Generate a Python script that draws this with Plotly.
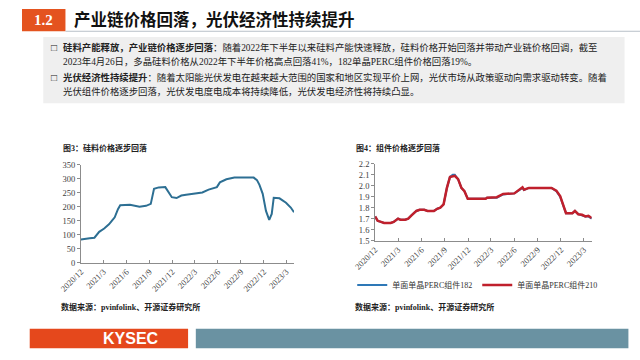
import plotly.graph_objects as go

W, H = 640, 360


def px(x):
    return x / W


def py(y):
    return 1 - y / H


# ---------------- data ----------------
si_dates = ["2020-12-01", "2020-12-23", "2021-01-05", "2021-01-24", "2021-02-12", "2021-03-04",
            "2021-03-23", "2021-04-05", "2021-04-15", "2021-04-28", "2021-05-07", "2021-06-15",
            "2021-07-10", "2021-07-23", "2021-08-18", "2021-09-06", "2021-09-19", "2021-10-08",
            "2021-11-03", "2021-11-29", "2021-12-18", "2022-01-06", "2022-01-25", "2022-03-05",
            "2022-03-31", "2022-04-25", "2022-05-28", "2022-06-09", "2022-07-05", "2022-08-06",
            "2022-10-22", "2022-11-04", "2022-11-14", "2022-11-27", "2022-12-10", "2022-12-23",
            "2023-01-02", "2023-01-10", "2023-02-02", "2023-02-28", "2023-03-19", "2023-04-01"]
si_price = [83, 84, 87, 89, 110, 122,
            137, 151, 162, 191, 205, 207,
            203, 200, 203, 210, 264, 269,
            270, 234, 231, 240, 243, 247,
            251, 261, 270, 287, 298, 304,
            304, 295, 278, 246, 185, 153,
            174, 232, 230, 214, 197, 180]

mod_dates = ["2020-12-01", "2020-12-11", "2020-12-24", "2021-01-05", "2021-01-31", "2021-02-12",
             "2021-03-01", "2021-03-10", "2021-03-29", "2021-04-10", "2021-04-23", "2021-05-12",
             "2021-05-25", "2021-06-12", "2021-06-25", "2021-07-20", "2021-08-02", "2021-08-14",
             "2021-08-27", "2021-09-09", "2021-09-21", "2021-10-02", "2021-10-10", "2021-10-23",
             "2021-11-05", "2021-11-17", "2021-11-30", "2022-02-08", "2022-02-14", "2022-03-24",
             "2022-04-18", "2022-06-01", "2022-06-14", "2022-07-03", "2022-07-09", "2022-07-28",
             "2022-10-25", "2022-11-13", "2022-11-28", "2022-12-08", "2022-12-21", "2023-01-15",
             "2023-01-25", "2023-02-07", "2023-02-22", "2023-03-07", "2023-03-19", "2023-04-01"]
mod_182 = [1.72, 1.68, 1.67, 1.66, 1.66, 1.67,
           1.70, 1.69, 1.69, 1.70, 1.73, 1.77,
           1.78, 1.78, 1.77, 1.77, 1.79, 1.80,
           1.83, 1.98, 2.08, 2.10, 2.10, 2.06,
           1.98, 1.95, 1.88, 1.88, 1.89, 1.89,
           1.92, 1.93, 1.95, 1.98, 1.96, 1.98,
           1.98, 1.95, 1.90, 1.83, 1.75, 1.75,
           1.77, 1.74, 1.73, 1.72, 1.72, 1.70]
mod_210 = [1.72, 1.68, 1.67, 1.66, 1.66, 1.67,
           1.70, 1.69, 1.69, 1.70, 1.73, 1.77,
           1.78, 1.78, 1.77, 1.77, 1.79, 1.80,
           1.83, 1.98, 2.08, 2.09, 2.09, 2.06,
           1.98, 1.95, 1.88, 1.88, 1.89, 1.895,
           1.925, 1.93, 1.955, 1.985, 1.963, 1.98,
           1.98, 1.955, 1.905, 1.83, 1.75, 1.75,
           1.77, 1.74, 1.735, 1.72, 1.725, 1.706]

tick_dates = ["2020-12-01", "2021-03-01", "2021-06-01", "2021-09-01", "2021-12-01",
              "2022-03-01", "2022-06-01", "2022-09-01", "2022-12-01", "2023-03-01"]
tick_text = ["2020/12", "2021/3", "2021/6", "2021/9", "2021/12",
             "2022/3", "2022/6", "2022/9", "2022/12", "2023/3"]

series_names = ["单面单晶PERC组件182", "单面单晶PERC组件210"]

# ---------------- figure ----------------
FONT = "Liberation Serif, Noto Sans CJK SC"
fig = go.Figure()

fig.add_trace(go.Scatter(x=si_dates, y=si_price, mode="lines", showlegend=False,
                         line=dict(color="#2d6f93", width=2), xaxis="x", yaxis="y"))
fig.add_trace(go.Scatter(x=mod_dates, y=mod_182, mode="lines", name=series_names[0],
                         line=dict(color="#2e78b7", width=2), xaxis="x2", yaxis="y2"))
fig.add_trace(go.Scatter(x=mod_dates, y=mod_210, mode="lines", name=series_names[1],
                         line=dict(color="#c0202c", width=2.5), xaxis="x2", yaxis="y2"))

x_common = dict(type="date", range=["2020-12-01", "2023-04-01"], tickvals=tick_dates,
                ticktext=tick_text, tickangle=-45, showgrid=False, zeroline=False,
                showline=True, linecolor="#8c8c8c", linewidth=1, ticks="inside",
                ticklen=3, tickcolor="#8c8c8c",
                tickfont=dict(family=FONT, size=8.5, color="#404040"), fixedrange=True)
y_common = dict(showgrid=False, zeroline=False, showline=True, linecolor="#8c8c8c",
                linewidth=1, ticks="outside", ticklen=3, tickcolor="#8c8c8c",
                tickfont=dict(family=FONT, size=8.5, color="#404040"), fixedrange=True)

fig.update_layout(
    width=W, height=H, margin=dict(l=0, r=0, t=0, b=0),
    paper_bgcolor="white", plot_bgcolor="white",
    xaxis=dict(domain=[px(61), px(281.7)], anchor="y", **x_common),
    yaxis=dict(domain=[py(265), py(164.3)], anchor="x", range=[0, 350], dtick=50, **y_common),
    xaxis2=dict(domain=[px(365.7), px(590)], anchor="y2", **x_common),
    yaxis2=dict(domain=[py(242.3), py(163.3)], anchor="x2", range=[1.5, 2.2], dtick=0.1,
                tickformat=".1f", **y_common),
    legend=dict(orientation="h", x=px(342), y=py(288), xanchor="left", yanchor="middle",
                entrywidth=80, entrywidthmode="pixels", itemwidth=30,
                font=dict(family=FONT, size=8, color="#333333"), bgcolor="rgba(0,0,0,0)"),
)

shapes = []
# header
shapes.append(dict(type="rect", xref="paper", yref="paper", x0=px(0), x1=px(45), y0=py(27), y1=py(4),
                   fillcolor="#e4531f", line=dict(width=0)))
shapes.append(dict(type="line", xref="paper", yref="paper", x0=px(45), x1=px(640), y0=py(27), y1=py(27),
                   line=dict(color="#b8c0c8", width=1)))
# grey text box
shapes.append(dict(type="rect", xref="paper", yref="paper", x0=px(22), x1=px(624), y0=py(101), y1=py(33),
                   fillcolor="#efefef", line=dict(width=0), layer="below"))
# footer
shapes.append(dict(type="rect", xref="paper", yref="paper", x0=px(8), x1=px(172), y0=py(353), y1=py(333),
                   fillcolor="#e5481c", line=dict(width=0)))
shapes.append(dict(type="rect", xref="paper", yref="paper", x0=px(180), x1=px(628), y0=py(353), y1=py(333),
                   fillcolor="#6a92a2", line=dict(width=0)))
fig.update_layout(shapes=shapes)

TXT = "Liberation Serif, Noto Sans CJK SC"


def note(x, y, text, size, color="#222222", bold=False, xanchor="left", family=TXT):
    if bold:
        text = "<b>" + text + "</b>"
    fig.add_annotation(x=px(x), y=py(y), xref="paper", yref="paper", text=text, showarrow=False,
                       xanchor=xanchor, yanchor="middle", align="left",
                       font=dict(family=family, size=size, color=color))


note(22.5, 15.5, "1.2", 15, color="white", bold=True, xanchor="center")
note(52, 15.5, "产业链价格回落，光伏经济性持续提升", 16.5, color="#111111", bold=True)

note(28, 44, "□", 10, color="#222222")
note(40, 44, "<b>硅料产能释放，产业链价格逐步回落</b>：随着2022年下半年以来硅料产能快速释放，硅料价格开始回落并带动产业链价格回调，截至", 9.4)
note(40, 58, "2023年4月26日，多晶硅料价格从2022年下半年价格高点回落41%，182单晶PERC组件价格回落19%。", 9.4)
note(28, 75, "□", 10, color="#222222")
note(40, 75, "<b>光伏经济性持续提升</b>：随着太阳能光伏发电在越来越大范围的国家和地区实现平价上网，光伏市场从政策驱动向需求驱动转变。随着", 9.4)
note(40, 89, "光伏组件价格逐步回落，光伏发电度电成本将持续降低，光伏发电经济性将持续凸显。", 9.4)

note(40, 147, "图3：硅料价格逐步回落", 8, bold=True)
note(344, 147, "图4：组件价格逐步回落", 8, bold=True)
note(38, 311, "数据来源：pvinfolink、开源证券研究所", 8, bold=True)
note(343, 311, "数据来源：pvinfolink、开源证券研究所", 8, bold=True)

note(113, 343, "KYSEC", 16, color="white", bold=True, xanchor="center", family="Liberation Sans, Arial")

fig.write_html("out.html", config={"displayModeBar": False},
               post_script="document.body.style.margin='0';document.body.style.overflow='hidden';")
